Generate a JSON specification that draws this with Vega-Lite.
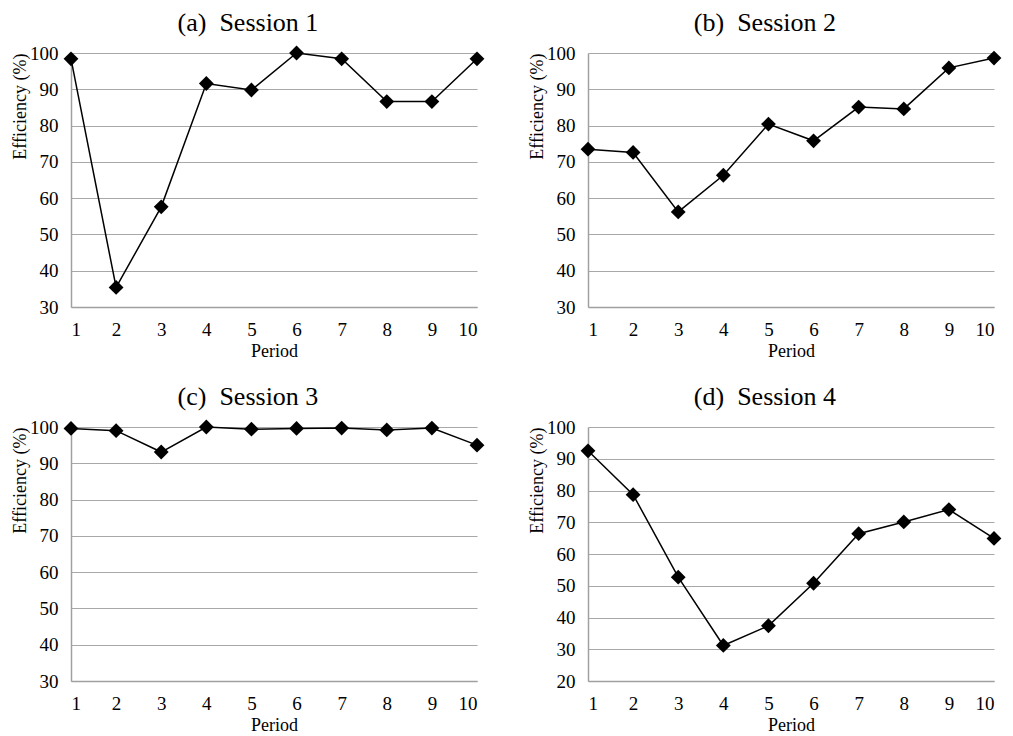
{
  "$schema": "https://vega.github.io/schema/vega-lite/v6.json",
  "background": "white",
  "padding": {"left": 11, "top": 10, "right": 8, "bottom": 2},
  "columns": 2,
  "bounds": "flush",
  "spacing": {"row": 120, "column": 111},
  "datasets": {
    "s1": [
      {"period": 1, "efficiency": 98.4}, {"period": 2, "efficiency": 35.4}, {"period": 3, "efficiency": 57.6},
      {"period": 4, "efficiency": 91.6}, {"period": 5, "efficiency": 89.8}, {"period": 6, "efficiency": 100},
      {"period": 7, "efficiency": 98.4}, {"period": 8, "efficiency": 86.6}, {"period": 9, "efficiency": 86.6},
      {"period": 10, "efficiency": 98.4}
    ],
    "s2": [
      {"period": 1, "efficiency": 73.5}, {"period": 2, "efficiency": 72.6}, {"period": 3, "efficiency": 56.2},
      {"period": 4, "efficiency": 66.3}, {"period": 5, "efficiency": 80.4}, {"period": 6, "efficiency": 75.8},
      {"period": 7, "efficiency": 85.1}, {"period": 8, "efficiency": 84.6}, {"period": 9, "efficiency": 95.9},
      {"period": 10, "efficiency": 98.6}
    ],
    "s3": [
      {"period": 1, "efficiency": 99.6}, {"period": 2, "efficiency": 99.0}, {"period": 3, "efficiency": 93.1},
      {"period": 4, "efficiency": 100}, {"period": 5, "efficiency": 99.4}, {"period": 6, "efficiency": 99.6},
      {"period": 7, "efficiency": 99.7}, {"period": 8, "efficiency": 99.2}, {"period": 9, "efficiency": 99.7},
      {"period": 10, "efficiency": 95.0}
    ],
    "s4": [
      {"period": 1, "efficiency": 92.5}, {"period": 2, "efficiency": 78.7}, {"period": 3, "efficiency": 52.7},
      {"period": 4, "efficiency": 31.2}, {"period": 5, "efficiency": 37.4}, {"period": 6, "efficiency": 50.8},
      {"period": 7, "efficiency": 66.4}, {"period": 8, "efficiency": 70.1}, {"period": 9, "efficiency": 74.0},
      {"period": 10, "efficiency": 64.9}
    ]
  },
  "config": {
    "font": "Liberation Serif, Times New Roman, DejaVu Serif, serif",
    "view": {"stroke": null},
    "title": {"font": "Liberation Serif, Times New Roman, DejaVu Serif, serif", "fontSize": 26, "fontWeight": "normal", "color": "black", "anchor": "middle", "frame": "bounds", "offset": 8},
    "axis": {
      "labelFont": "Liberation Serif, Times New Roman, DejaVu Serif, serif", "titleFont": "Liberation Serif, Times New Roman, DejaVu Serif, serif",
      "labelFontSize": 19, "titleFontSize": 18, "titleFontWeight": "normal",
      "labelColor": "black", "titleColor": "black",
      "domainColor": "#a0a0a0", "domainWidth": 1.5,
      "gridColor": "#a8a8a8", "gridWidth": 1.2, "gridOpacity": 1,
      "ticks": false
    },
    "axisX": {"grid": false, "labelPadding": 13, "titlePadding": 3, "labelAngle": 0},
    "axisY": {"labelPadding": 13, "titlePadding": 0, "titleAnchor": "end"}
  },
  "concat": [
    {
      "title": "(a)\u00a0 Session 1",
      "width": 406, "height": 254,
      "data": {"name": "s1"},
      "encoding": {
        "x": {"field": "period", "type": "quantitative", "title": "Period", "scale": {"domain": [1, 10], "nice": false, "zero": false}, "axis": {"values": [1,2,3,4,5,6,7,8,9,10], "format": "d"}},
        "y": {"field": "efficiency", "type": "quantitative", "title": "Efficiency (%)", "scale": {"domain": [30, 100], "nice": false, "zero": false}, "axis": {"values": [30,40,50,60,70,80,90,100]}}
      },
      "mark": {"type": "line", "color": "black", "strokeWidth": 1.5, "point": {"shape": "diamond", "filled": true, "color": "black", "size": 220, "opacity": 1}}
    },
    {
      "title": "(b)\u00a0 Session 2",
      "width": 406, "height": 254,
      "data": {"name": "s2"},
      "encoding": {
        "x": {"field": "period", "type": "quantitative", "title": "Period", "scale": {"domain": [1, 10], "nice": false, "zero": false}, "axis": {"values": [1,2,3,4,5,6,7,8,9,10], "format": "d"}},
        "y": {"field": "efficiency", "type": "quantitative", "title": "Efficiency (%)", "scale": {"domain": [30, 100], "nice": false, "zero": false}, "axis": {"values": [30,40,50,60,70,80,90,100]}}
      },
      "mark": {"type": "line", "color": "black", "strokeWidth": 1.5, "point": {"shape": "diamond", "filled": true, "color": "black", "size": 220, "opacity": 1}}
    },
    {
      "title": "(c)\u00a0 Session 3",
      "width": 406, "height": 254,
      "data": {"name": "s3"},
      "encoding": {
        "x": {"field": "period", "type": "quantitative", "title": "Period", "scale": {"domain": [1, 10], "nice": false, "zero": false}, "axis": {"values": [1,2,3,4,5,6,7,8,9,10], "format": "d"}},
        "y": {"field": "efficiency", "type": "quantitative", "title": "Efficiency (%)", "scale": {"domain": [30, 100], "nice": false, "zero": false}, "axis": {"values": [30,40,50,60,70,80,90,100]}}
      },
      "mark": {"type": "line", "color": "black", "strokeWidth": 1.5, "point": {"shape": "diamond", "filled": true, "color": "black", "size": 220, "opacity": 1}}
    },
    {
      "title": "(d)\u00a0 Session 4",
      "width": 406, "height": 254,
      "data": {"name": "s4"},
      "encoding": {
        "x": {"field": "period", "type": "quantitative", "title": "Period", "scale": {"domain": [1, 10], "nice": false, "zero": false}, "axis": {"values": [1,2,3,4,5,6,7,8,9,10], "format": "d"}},
        "y": {"field": "efficiency", "type": "quantitative", "title": "Efficiency (%)", "scale": {"domain": [20, 100], "nice": false, "zero": false}, "axis": {"values": [20,30,40,50,60,70,80,90,100]}}
      },
      "mark": {"type": "line", "color": "black", "strokeWidth": 1.5, "point": {"shape": "diamond", "filled": true, "color": "black", "size": 220, "opacity": 1}}
    }
  ]
}
